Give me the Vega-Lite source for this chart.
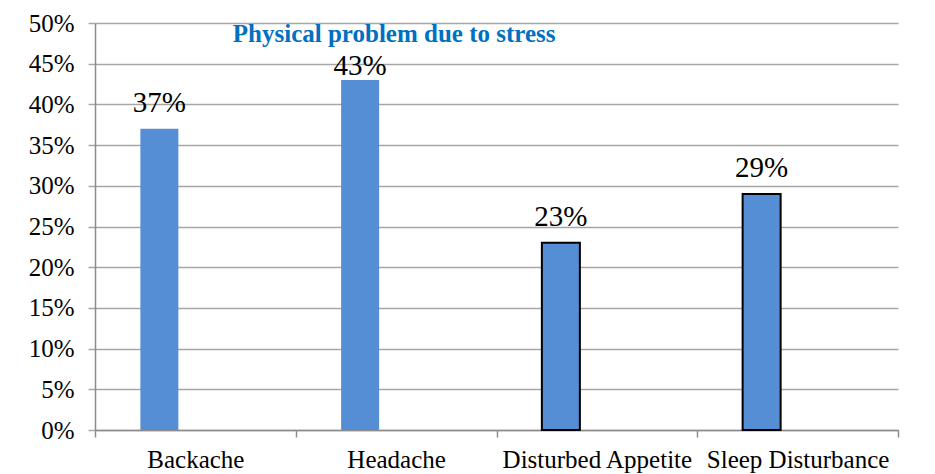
{
  "$schema": "https://vega.github.io/schema/vega-lite/v6.json",
  "width": 803,
  "height": 407,
  "autosize": {"type": "none"},
  "padding": {"left": 95, "top": 23, "right": 37, "bottom": 44},
  "background": "white",
  "config": {"view": {"stroke": null}},
  "datasets": {
    "problems": [
      {"problem": "Backache", "share": 0.37},
      {"problem": "Headache", "share": 0.43},
      {"problem": "Disturbed Appetite", "share": 0.23},
      {"problem": "Sleep Disturbance", "share": 0.29}
    ],
    "heading": [
      {"problem": "Headache", "share": 0.5, "heading": "Physical problem due to stress"}
    ]
  },
  "layer": [
    {
      "data": {"name": "problems"},
      "mark": {"type": "bar", "width": 38, "xOffset": -36, "color": "#558ED5", "strokeWidth": 2},
      "encoding": {
        "x": {
          "field": "problem",
          "type": "nominal",
          "sort": ["Backache", "Headache", "Disturbed Appetite", "Sleep Disturbance"],
          "scale": {"paddingInner": 0, "paddingOuter": 0},
          "axis": {
            "title": null,
            "labelAngle": 0,
            "labelLimit": 0,
            "tickBand": "extent",
            "tickSize": 7,
            "tickColor": "#8c8c8c",
            "tickWidth": 1.5,
            "domainColor": "#8c8c8c",
            "domainWidth": 1.5,
            "labelFont": "Liberation Serif",
            "labelFontSize": 25,
            "labelColor": "black",
            "labelPadding": 10
          }
        },
        "y": {
          "field": "share",
          "type": "quantitative",
          "scale": {"domain": [0, 0.5], "nice": false},
          "axis": {
            "title": null,
            "values": [0, 0.05, 0.1, 0.15, 0.2, 0.25, 0.3, 0.35, 0.4, 0.45, 0.5],
            "format": ".0%",
            "grid": true,
            "gridColor": "#a6a6a6",
            "gridWidth": 1.5,
            "tickSize": 7,
            "tickColor": "#a6a6a6",
            "tickWidth": 1.5,
            "domainColor": "#8c8c8c",
            "domainWidth": 1.5,
            "labelFont": "Liberation Serif",
            "labelFontSize": 25,
            "labelColor": "black",
            "labelPadding": 14
          }
        },
        "stroke": {
          "condition": {"test": "datum.problem === 'Disturbed Appetite' || datum.problem === 'Sleep Disturbance'", "value": "black"},
          "value": null
        }
      }
    },
    {
      "data": {"name": "problems"},
      "transform": [{"filter": "datum.problem !== 'Headache'"}],
      "mark": {"type": "text", "xOffset": -36, "dy": -17, "baseline": "alphabetic", "font": "Liberation Serif", "fontSize": 29, "color": "black"},
      "encoding": {
        "x": {"field": "problem", "type": "nominal", "sort": ["Backache", "Headache", "Disturbed Appetite", "Sleep Disturbance"]},
        "y": {"field": "share", "type": "quantitative"},
        "text": {"field": "share", "type": "quantitative", "format": ".0%"}
      }
    },
    {
      "data": {"name": "problems"},
      "transform": [{"filter": "datum.problem === 'Headache'"}],
      "mark": {"type": "text", "xOffset": -36, "dy": -5, "baseline": "alphabetic", "font": "Liberation Serif", "fontSize": 29, "color": "black"},
      "encoding": {
        "x": {"field": "problem", "type": "nominal", "sort": ["Backache", "Headache", "Disturbed Appetite", "Sleep Disturbance"]},
        "y": {"field": "share", "type": "quantitative"},
        "text": {"field": "share", "type": "quantitative", "format": ".0%"}
      }
    },
    {
      "data": {"name": "heading"},
      "mark": {"type": "text", "dx": -2, "dy": 19, "align": "center", "baseline": "alphabetic", "font": "Liberation Serif", "fontSize": 25, "fontWeight": "bold", "color": "#0070C0"},
      "encoding": {
        "x": {"field": "problem", "type": "nominal", "sort": ["Backache", "Headache", "Disturbed Appetite", "Sleep Disturbance"]},
        "y": {"field": "share", "type": "quantitative"},
        "text": {"field": "heading", "type": "nominal"}
      }
    }
  ]
}
